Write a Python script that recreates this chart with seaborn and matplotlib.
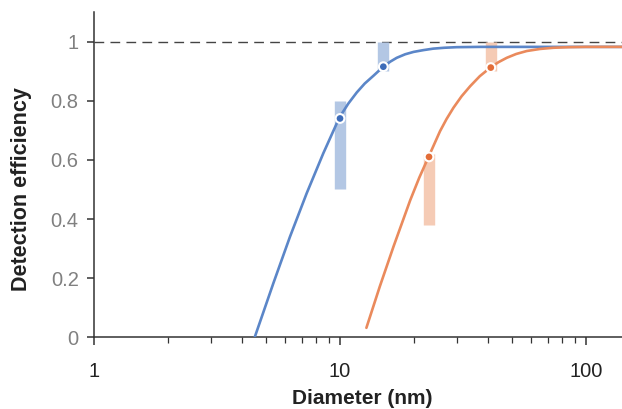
import pandas as pd
import numpy as np
import matplotlib
matplotlib.use("Agg")
import matplotlib.pyplot as plt
import seaborn as sns

# =========================
# Data
# =========================
blue_curve_x = [4.5, 5.36, 6.26, 7.32, 8.55, 9.94, 10.8, 11.7, 12.6, 13.7, 14.9, 16.0, 17.0,
                18.4, 19.9, 21.8, 23.9, 26.5, 29.8, 37, 140]
blue_curve_y = [0.0, 0.183, 0.340, 0.487, 0.622, 0.743, 0.790, 0.828, 0.858, 0.885, 0.913, 0.932, 0.945,
                0.957, 0.965, 0.971, 0.976, 0.979, 0.981, 0.982, 0.982]

orange_curve_x = [12.8, 14.5, 16.5, 19.3, 21.0, 22.9, 25.5, 27.1, 28.9, 31.2, 33.8, 37.0, 40.7, 44.0,
                  47.6, 52.0, 57.4, 65.0, 73.6, 85.0, 100, 140]
orange_curve_y = [0.032, 0.171, 0.307, 0.464, 0.540, 0.610, 0.697, 0.738, 0.776, 0.815, 0.849, 0.883, 0.911,
                  0.930, 0.945, 0.958, 0.968, 0.975, 0.979, 0.981, 0.982, 0.982]

blue_pts_x = [10, 15]
blue_pts_y = [0.74, 0.915]
blue_lo = [0.50, 0.90]
blue_hi = [0.80, 1.0]

orange_pts_x = [23, 41]
orange_pts_y = [0.61, 0.912]
orange_lo = [0.38, 0.90]
orange_hi = [0.62, 1.0]

yticks = [0, 0.2, 0.4, 0.6, 0.8, 1]
ytick_labels = ["0", "0.2", "0.4", "0.6", "0.8", "1"]

# colours
BLUE_LINE = "#5b86c8"
BLUE_DOT = "#3d6cb9"
BLUE_BAR = "#b3c7e4"
ORANGE_LINE = "#ea8a5c"
ORANGE_DOT = "#e36d38"
ORANGE_BAR = "#f5cbb5"

# =========================
# Style
# =========================
sns.set_style("ticks")
plt.rcParams["font.family"] = ["Liberation Sans", "DejaVu Sans"]

curves = pd.concat([
    pd.DataFrame({"d": blue_curve_x, "eff": blue_curve_y, "grp": "blue"}),
    pd.DataFrame({"d": orange_curve_x, "eff": orange_curve_y, "grp": "orange"}),
])
points = pd.concat([
    pd.DataFrame({"d": blue_pts_x, "eff": blue_pts_y, "grp": "blue"}),
    pd.DataFrame({"d": orange_pts_x, "eff": orange_pts_y, "grp": "orange"}),
])

fig = plt.figure(figsize=(6.22, 4.09), dpi=100)
ax = fig.add_axes([0.1511, 0.1753, 0.8489, 0.7954])
ax.set_xscale("log")

# dashed reference at 1
ax.axhline(1.0, color="#444444", lw=1.0, ls=(0, (7, 4.5)), zorder=1)

# uncertainty bars
ax.vlines(blue_pts_x, blue_lo, blue_hi, colors=BLUE_BAR, lw=8.2, capstyle="butt", zorder=2)
ax.vlines(orange_pts_x, orange_lo, orange_hi, colors=ORANGE_BAR, lw=8.2, capstyle="butt", zorder=2)

sns.lineplot(data=curves, x="d", y="eff", hue="grp", estimator=None, sort=True,
             palette={"blue": BLUE_LINE, "orange": ORANGE_LINE}, lw=1.9,
             legend=False, ax=ax, zorder=3)
sns.scatterplot(data=points, x="d", y="eff", hue="grp",
                palette={"blue": BLUE_DOT, "orange": ORANGE_DOT}, s=40,
                edgecolor="white", linewidth=1.5, legend=False, ax=ax, zorder=4)

# =========================
# Axes
# =========================
ax.set_xlim(1, 140)
ax.set_ylim(0, 1.1)
ax.set_xticks([1, 10, 100])
ax.set_xticklabels(["1", "10", "100"])
ax.set_yticks(yticks)
ax.set_yticklabels(ytick_labels)

for side in ["top", "right"]:
    ax.spines[side].set_visible(False)
for side in ["left", "bottom"]:
    ax.spines[side].set_color("#333333")
    ax.spines[side].set_linewidth(1.1)

ax.tick_params(axis="x", which="major", length=6, width=1.1, color="#333333",
               labelsize=14.5, labelcolor="#222222", pad=12)
ax.tick_params(axis="x", which="minor", length=4, width=0.9, color="#333333")
ax.tick_params(axis="y", length=5, width=1.1, color="#333333",
               labelsize=14.5, labelcolor="#808080", pad=6)

ax.set_xlabel("Diameter (nm)", fontsize=15, fontweight="bold", color="#222222")
ax.set_ylabel("Detection efficiency", fontsize=15.5, fontweight="bold", color="#222222")
ax.xaxis.set_label_coords(0.508, -0.158)
ax.yaxis.set_label_coords(-0.118, 0.4545)

plt.savefig("out.png", dpi=100)
